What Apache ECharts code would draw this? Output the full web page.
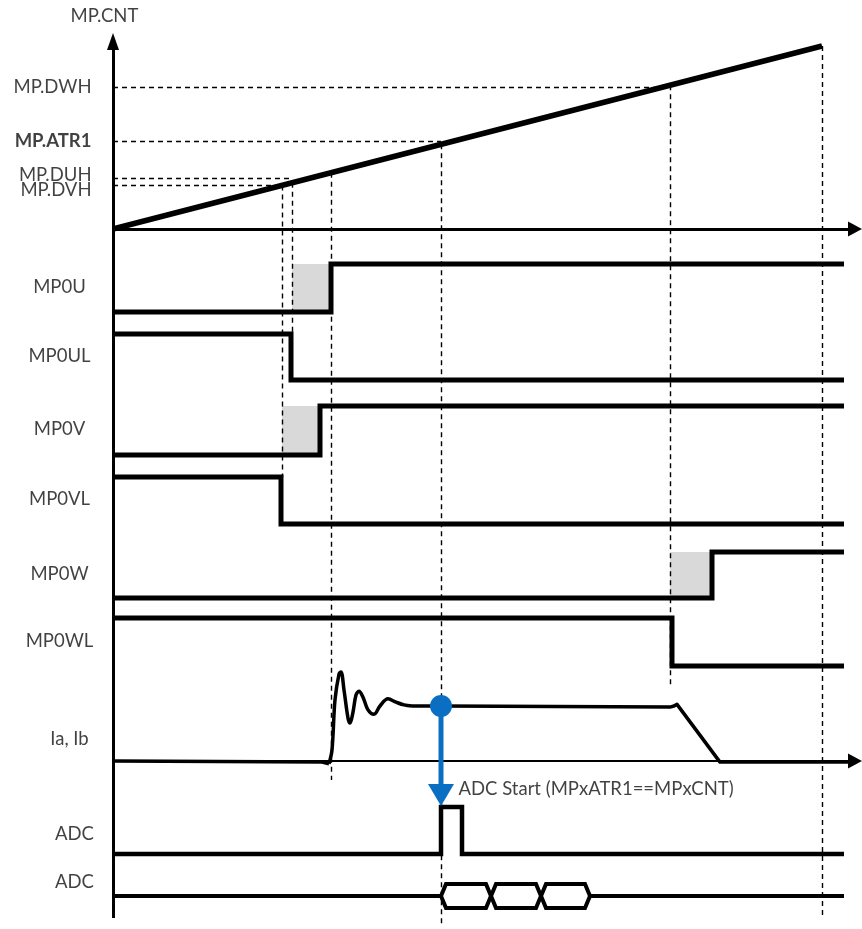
<!DOCTYPE html>
<html>
<head>
    <meta charset="utf-8">
    <title>MP counter / ADC timing</title>
    <script src="https://cdn.jsdelivr.net/npm/echarts@6/dist/echarts.min.js"></script>
    <style>
        * {
            margin: 0;
            padding: 0
        }

        html, body {
            width: 100%;
            height: 100%;
            background: #fff;
        }

        #main {
            width: 862px;
            height: 929px;
        }
    </style>
</head>
<body>
<div id="main"></div>
<script type="text/javascript">
    /*-------------------- data (time in counter ticks) --------------------*/
    var cntRampT = [0, 709];
    var cntRampV = [0, 708];
    var cntNames = ['MP.DWH', 'MP.ATR1', 'MP.DUH', 'MP.DVH'];
    var cntValues = [549, 340, 197, 170];
    var cntHitT = [557, 328, 179, 169];

    var sigNames = ['MP0U', 'MP0UL', 'MP0V', 'MP0VL', 'MP0W', 'MP0WL'];
    var sigInit = [0, 1, 0, 1, 0, 1];
    var sigEdge = [218, 178, 207, 168, 599, 559];
    var deadFrom = [179, null, 169, null, 557, null];
    var sigEndT = 731;

    // phase current Ia, Ib (100 = steady level): idle, ringing, plateau + decay
    var iaIdleT = [0, 209, 216];
    var iaIdleV = [0, -2, -5];
    var iaRingT = [216, 219, 222, 226, 228, 231, 235, 237, 240, 243, 246, 250, 255, 261, 267, 275, 283, 291, 299];
    var iaRingV = [-5, 20, 111, 158, 162, 129, 78, 69, 89, 120, 127, 116, 93, 85, 100, 113, 107, 102, 100];
    var iaTailT = [299, 328, 557, 561, 564, 607, 742];
    var iaTailV = [100, 100, 98, 100, 103, -2, -2];

    var adcEdge = [328, 349];
    var busSlots = [328, 378, 428, 477];
    var trigT = 328;
    var trigText = 'ADC Start (MPxATR1==MPxCNT)';

    // guide lines (time) and where they stop
    var guideT = [169, 179, 218, 328, 557, 709];
    var guideEnd = [477, 334, 780, 925, 685, 917];

    /*-------------------- layout --------------------*/
    var cntBase = 229, cntK = 0.2585;
    var laneHi = [264, 334, 406, 477, 552, 618];
    var laneLo = [312, 380, 455, 524, 598, 666];
    var labelY = [288, 357, 430, 500, 575, 642];
    var iaBase = 761, iaK = 0.55;
    var adcHi = 807, adcLo = 854;
    var busMid = 896, busHalf = 12, busSlant = 5;
    var axisEndT = 749;
    var FONT = 'Lato';
    var FS = 18.5;

    function cy(v) { return cntBase - v * cntK; }
    function iy(v) { return iaBase - v * iaK; }
    function iaPts(ts, vs) { return ts.map(function (t, i) { return [t, iy(vs[i])]; }); }

    function stepLine(init, edges, hi, lo, endT) {
        var lvl = init, pts = [[0, lvl ? hi : lo]];
        edges.forEach(function (t) {
            pts.push([t, lvl ? hi : lo]);
            lvl = 1 - lvl;
            pts.push([t, lvl ? hi : lo]);
        });
        pts.push([endT, lvl ? hi : lo]);
        return pts;
    }

    var black = '#000';
    var series = [];

    // dead-time shading
    var areas = [];
    sigNames.forEach(function (n, i) {
        if (deadFrom[i] !== null) {
            areas.push([{coord: [deadFrom[i], laneHi[i]]}, {coord: [sigEdge[i], laneLo[i]]}]);
        }
    });
    series.push({
        type: 'line', data: [], z: 1,
        markArea: {silent: true, itemStyle: {color: '#d9d9d9'}, data: areas}
    });

    // dashed guides
    var guides = [];
    cntNames.forEach(function (n, i) {
        guides.push({coords: [[0, cy(cntValues[i])], [cntHitT[i], cy(cntValues[i])]]});
    });
    guideT.forEach(function (t, i) {
        var yStart = t >= cntRampT[1] ? cy(cntRampV[1]) : cy(t * cntRampV[1] / cntRampT[1]);
        guides.push({coords: [[t, yStart], [t, guideEnd[i]]]});
    });
    series.push({
        type: 'lines', coordinateSystem: 'cartesian2d', z: 2, silent: true,
        lineStyle: {color: black, width: 1.4, type: [5, 4], opacity: 1},
        data: guides
    });

    // axes
    series.push({
        type: 'lines', coordinateSystem: 'cartesian2d', z: 3, silent: true,
        lineStyle: {color: black, width: 3, opacity: 1},
        data: [
            {coords: [[0, 918], [0, 45]]},
            {coords: [[0, cntBase], [axisEndT - 10, cntBase]]}
        ]
    });
    series.push({
        type: 'lines', coordinateSystem: 'cartesian2d', z: 3, silent: true,
        lineStyle: {color: black, width: 2, opacity: 1},
        data: [{coords: [[0, iaBase], [axisEndT - 10, iaBase]]}]
    });
    series.push({
        type: 'scatter', z: 4, silent: true, symbol: 'triangle',
        itemStyle: {color: black, opacity: 1},
        data: [
            {value: [0, 41.5], symbolSize: [12, 17]},
            {value: [axisEndT - 7, cntBase], symbolSize: [15, 14], symbolRotate: -90},
            {value: [axisEndT - 7, iaBase], symbolSize: [15, 14], symbolRotate: -90}
        ]
    });

    // counter ramp
    series.push({
        type: 'line', z: 5, silent: true, symbol: 'none',
        lineStyle: {color: black, width: 5.5},
        data: cntRampT.map(function (t, i) { return [t, cy(cntRampV[i])]; })
    });

    // PWM outputs
    sigNames.forEach(function (n, i) {
        series.push({
            type: 'line', z: 5, silent: true, symbol: 'none',
            lineStyle: {color: black, width: 5, cap: 'butt', join: 'miter'},
            data: stepLine(sigInit[i], [sigEdge[i]], laneHi[i], laneLo[i], sigEndT)
        });
    });

    // Ia, Ib
    series.push({
        type: 'line', z: 5, silent: true, symbol: 'none',
        lineStyle: {color: black, width: 3.5, join: 'round'},
        data: iaPts(iaIdleT, iaIdleV)
    });
    series.push({
        type: 'line', z: 5, silent: true, symbol: 'none', smooth: 0.35,
        lineStyle: {color: black, width: 3.5},
        data: iaPts(iaRingT, iaRingV)
    });
    series.push({
        type: 'line', z: 5, silent: true, symbol: 'none',
        lineStyle: {color: black, width: 3.5, join: 'round'},
        data: iaPts(iaTailT, iaTailV)
    });

    // ADC trigger pulse
    series.push({
        type: 'line', z: 5, silent: true, symbol: 'none',
        lineStyle: {color: black, width: 4.5, cap: 'butt', join: 'miter'},
        data: stepLine(0, adcEdge, adcHi, adcLo, sigEndT)
    });

    // ADC conversion bus
    var busLead = [[2, busMid], [busSlots[0], busMid]];
    var busUp = [], busDown = [];
    for (var k = 0; k < busSlots.length - 1; k++) {
        var a = busSlots[k], b = busSlots[k + 1];
        busUp.push([a, busMid], [a + busSlant, busMid - busHalf], [b - busSlant, busMid - busHalf], [b, busMid]);
        busDown.push([a, busMid], [a + busSlant, busMid + busHalf], [b - busSlant, busMid + busHalf], [b, busMid]);
    }
    series.push({
        type: 'lines', coordinateSystem: 'cartesian2d', z: 5, silent: true, polyline: true,
        lineStyle: {color: black, width: 4, opacity: 1, join: 'miter'},
        data: [
            {coords: busLead},
            {coords: busUp},
            {coords: busDown},
            {coords: [[busSlots[busSlots.length - 1], busMid], [sigEndT, busMid]]}
        ]
    });

    // ADC start trigger arrow
    var blue = '#0a6fc2';
    var trigY = iy(100);
    series.push({
        type: 'line', z: 6, silent: true, symbol: 'none',
        lineStyle: {color: blue, width: 5},
        data: [[trigT, trigY], [trigT, adcHi - 20]]
    });
    series.push({
        type: 'scatter', z: 7, silent: true,
        itemStyle: {color: blue, opacity: 1},
        data: [
            {value: [trigT, trigY], symbol: 'circle', symbolSize: 22},
            {value: [trigT, adcHi - 12], symbol: 'triangle', symbolSize: [26, 22], symbolRotate: 180}
        ]
    });

    // labels
    var txt = [];
    txt.push({value: [-8, 17], name: 'MP.CNT', align: 'center'});
    cntNames.forEach(function (n, i) {
        var y = cy(cntValues[i]);
        if (n === 'MP.DUH') y -= 3;
        if (n === 'MP.DVH') y += 5;
        txt.push({value: [-21, y], name: n, align: 'right', bold: n === 'MP.ATR1'});
    });
    sigNames.forEach(function (n, i) {
        txt.push({value: [-53, labelY[i]], name: n, align: 'center'});
    });
    txt.push({value: [-43, 740], name: 'Ia, Ib', align: 'center'});
    txt.push({value: [-38, 835], name: 'ADC', align: 'center'});
    txt.push({value: [-38, 883], name: 'ADC', align: 'center'});
    txt.push({value: [trigT + 18, 790], name: trigText, align: 'left'});

    series.push({
        type: 'scatter', z: 8, silent: true, symbolSize: 1,
        itemStyle: {color: 'rgba(0,0,0,0)'},
        data: txt.map(function (d) {
            return {
                value: d.value, name: d.name,
                label: {
                    show: true, position: [0, 0], align: d.align, verticalAlign: 'middle',
                    formatter: d.name, color: '#111', fontFamily: FONT, fontSize: FS,
                    fontWeight: d.bold ? 'bold' : 'normal'
                }
            };
        })
    });

    var myChart = echarts.init(document.getElementById('main'));
    myChart.setOption({
        animation: false,
        backgroundColor: '#fff',
        grid: {left: 0, right: 0, top: 0, bottom: 0},
        xAxis: {type: 'value', min: -113, max: 749, show: false},
        yAxis: {type: 'value', min: 0, max: 929, inverse: true, show: false},
        series: series
    });
</script>
</body>
</html>
